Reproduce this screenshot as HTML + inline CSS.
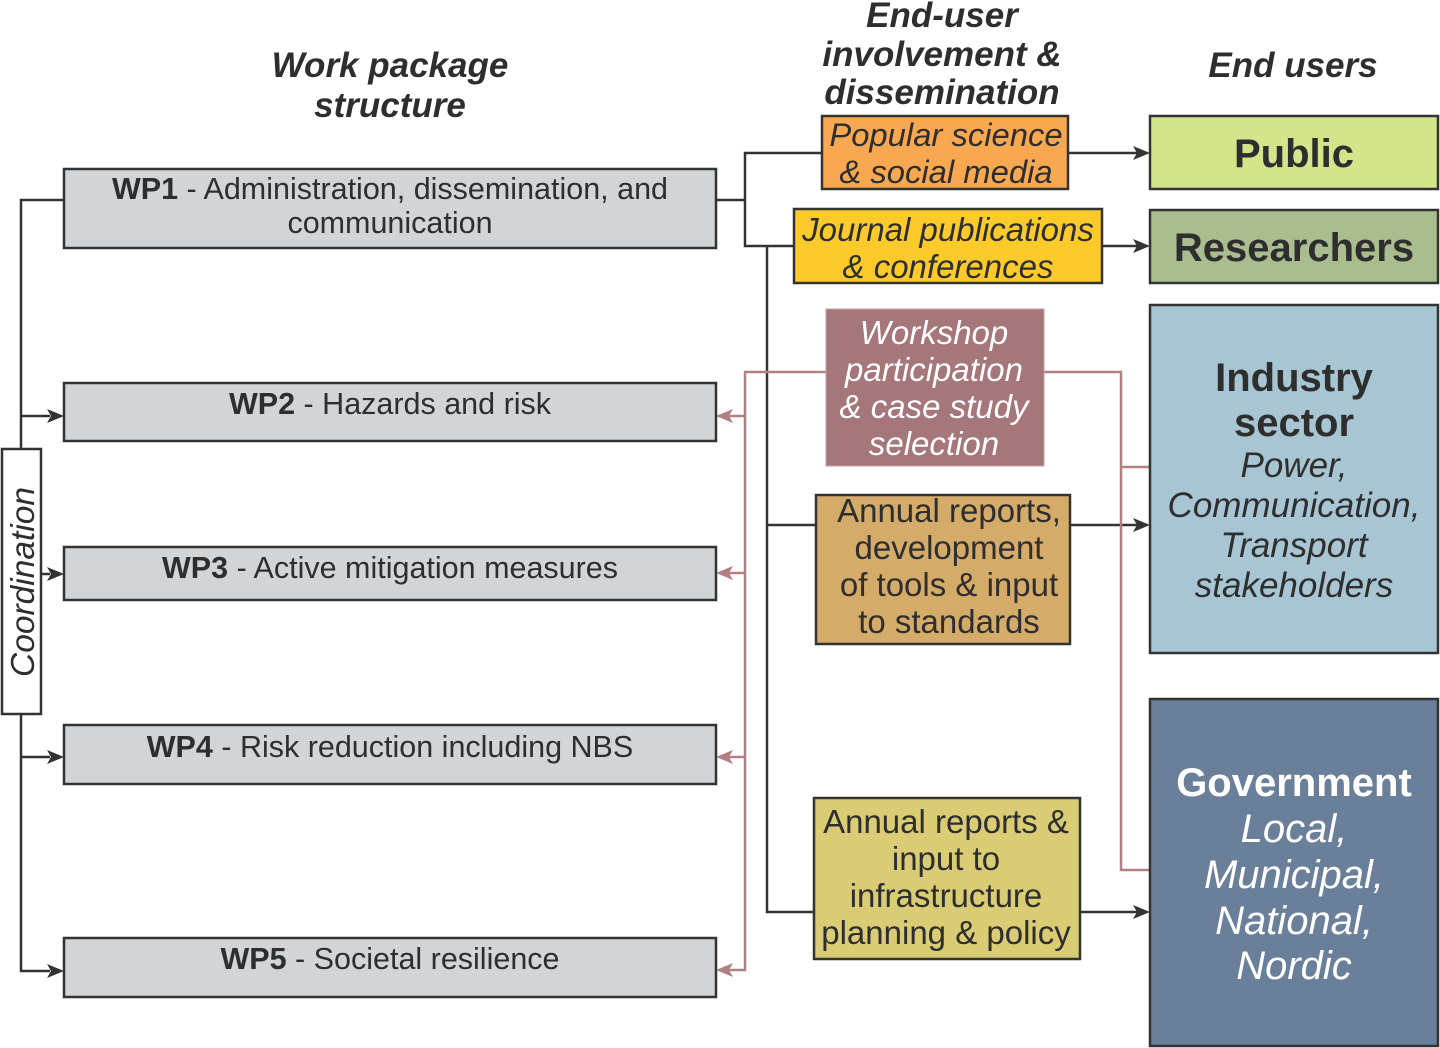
<!DOCTYPE html>
<html>
<head>
<meta charset="utf-8">
<style>
  html,body{margin:0;padding:0;background:#fff;}
  svg{display:block;}
  text{font-family:"Liberation Sans", Arial, sans-serif;fill:#2e2e2e;}
  .hdr{font-size:35px;font-weight:bold;font-style:italic;}
  .wp{font-size:30.5px;}
  .it33{font-size:33px;font-style:italic;}
  .r33{font-size:33px;}
  .b40{font-size:40px;font-weight:bold;}
  .it35{font-size:35px;font-style:italic;}
  .it40{font-size:40px;font-style:italic;}
</style>
</head>
<body>
<svg width="1440" height="1048" viewBox="0 0 1440 1048" xmlns="http://www.w3.org/2000/svg">
  <!-- Headers -->
  <text class="hdr" x="390" y="77" text-anchor="middle">Work package</text>
  <text class="hdr" x="390" y="117" text-anchor="middle">structure</text>
  <text class="hdr" x="942" y="27" text-anchor="middle">End-user</text>
  <text class="hdr" x="942" y="66" text-anchor="middle">involvement &amp;</text>
  <text class="hdr" x="942" y="104" text-anchor="middle">dissemination</text>
  <text class="hdr" x="1293" y="77" text-anchor="middle">End users</text>

  <!-- Black connectors -->
  <g stroke="#333" stroke-width="2.5" fill="none">
    <polyline points="64,200 21,200 21,971 50,971"/>
    <line x1="21" y1="416" x2="50" y2="416"/>
    <line x1="41" y1="574" x2="50" y2="574"/>
    <line x1="21" y1="757" x2="50" y2="757"/>
    <line x1="716" y1="200" x2="745" y2="200"/>
    <polyline points="822,153 745,153 745,246 795,246"/>
    <line x1="1068" y1="153" x2="1137" y2="153"/>
    <line x1="1102" y1="246" x2="1137" y2="246"/>
    <polyline points="816,525 767,525"/>
    <polyline points="767,246 767,912 814,912"/>
    <line x1="1070" y1="525" x2="1137" y2="525"/>
    <line x1="1080" y1="912" x2="1137" y2="912"/>
  </g>
  <g fill="#333">
    <polygon points="64,416 47,409 51,416 47,423"/>
    <polygon points="64,574 47,567 51,574 47,581"/>
    <polygon points="64,757 47,750 51,757 47,764"/>
    <polygon points="64,971 47,964 51,971 47,978"/>
    <polygon points="1150,153 1133,146 1137,153 1133,160"/>
    <polygon points="1150,246 1133,239 1137,246 1133,253"/>
    <polygon points="1150,525 1133,518 1137,525 1133,532"/>
    <polygon points="1150,912 1133,905 1137,912 1133,919"/>
  </g>

  <!-- Pink connectors -->
  <g stroke="#b08083" stroke-width="2.5" fill="none">
    <polyline points="826,372 745,372 745,970 729,970"/>
    <line x1="745" y1="416" x2="729" y2="416"/>
    <line x1="745" y1="573" x2="729" y2="573"/>
    <line x1="745" y1="757" x2="729" y2="757"/>
    <polyline points="1044,372 1121,372 1121,870 1150,870"/>
    <line x1="1121" y1="467" x2="1150" y2="467"/>
  </g>
  <g fill="#b08083">
    <polygon points="716,416 733,409 729,416 733,423"/>
    <polygon points="716,573 733,566 729,573 733,580"/>
    <polygon points="716,757 733,750 729,757 733,764"/>
    <polygon points="716,970 733,963 729,970 733,977"/>
  </g>

  <!-- WP boxes -->
  <g fill="#d3d4d6" stroke="#333" stroke-width="2.5">
    <rect x="64" y="169" width="652" height="79"/>
    <rect x="64" y="383" width="652" height="58"/>
    <rect x="64" y="547" width="652" height="53"/>
    <rect x="64" y="725" width="652" height="59"/>
    <rect x="64" y="938" width="652" height="59"/>
  </g>
  <text class="wp" x="390" y="199" text-anchor="middle"><tspan font-weight="bold">WP1</tspan> -  Administration, dissemination, and</text>
  <text class="wp" x="390" y="233" text-anchor="middle">communication</text>
  <text class="wp" x="390" y="414" text-anchor="middle"><tspan font-weight="bold">WP2</tspan> - Hazards and risk</text>
  <text class="wp" x="390" y="578" text-anchor="middle"><tspan font-weight="bold">WP3</tspan> - Active mitigation measures</text>
  <text class="wp" x="390" y="757" text-anchor="middle"><tspan font-weight="bold">WP4</tspan> - Risk reduction including NBS</text>
  <text class="wp" x="390" y="969" text-anchor="middle"><tspan font-weight="bold">WP5</tspan> - Societal resilience</text>

  <!-- Coordination -->
  <rect x="2" y="449" width="39" height="265" fill="#fff" stroke="#333" stroke-width="2.5"/>
  <text class="it33" transform="translate(34,582) rotate(-90)" x="0" y="0" text-anchor="middle" style="font-size:33.5px">Coordination</text>

  <!-- Middle boxes -->
  <rect x="822" y="116" width="246" height="73" fill="#f9a852" stroke="#333" stroke-width="2.5"/>
  <text class="it33" x="946" y="146" text-anchor="middle" style="font-size:32.8px">Popular science</text>
  <text class="it33" x="946" y="183" text-anchor="middle" style="font-size:32.8px">&amp; social media</text>

  <rect x="794" y="209" width="308" height="74" fill="#fdca2c" stroke="#333" stroke-width="2.5"/>
  <text class="it33" x="948" y="241" text-anchor="middle">Journal publications</text>
  <text class="it33" x="948" y="278" text-anchor="middle">&amp; conferences</text>

  <rect x="826" y="309" width="218" height="157" fill="#a5767a" stroke="#c7a2a4" stroke-width="1"/>
  <text class="it33" x="934" y="344" text-anchor="middle" style="fill:#fff">Workshop</text>
  <text class="it33" x="934" y="381" text-anchor="middle" style="fill:#fff">participation</text>
  <text class="it33" x="934" y="418" text-anchor="middle" style="fill:#fff">&amp; case study</text>
  <text class="it33" x="934" y="455" text-anchor="middle" style="fill:#fff">selection</text>

  <rect x="816" y="495" width="254" height="149" fill="#d4ab69" stroke="#333" stroke-width="2.5"/>
  <text class="r33" x="949" y="522" text-anchor="middle">Annual reports,</text>
  <text class="r33" x="949" y="559" text-anchor="middle">development</text>
  <text class="r33" x="949" y="596" text-anchor="middle">of tools &amp; input</text>
  <text class="r33" x="949" y="633" text-anchor="middle">to standards</text>

  <rect x="814" y="798" width="266" height="161" fill="#d9cc74" stroke="#333" stroke-width="2.5"/>
  <text class="r33" x="946" y="833" text-anchor="middle">Annual reports &amp;</text>
  <text class="r33" x="946" y="870" text-anchor="middle">input to</text>
  <text class="r33" x="946" y="907" text-anchor="middle">infrastructure</text>
  <text class="r33" x="946" y="944" text-anchor="middle">planning &amp; policy</text>

  <!-- End user boxes -->
  <rect x="1150" y="116" width="288" height="73" fill="#d4e48b" stroke="#333" stroke-width="2.5"/>
  <text class="b40" x="1294" y="167" text-anchor="middle">Public</text>

  <rect x="1150" y="210" width="288" height="73" fill="#a9bd8f" stroke="#333" stroke-width="2.5"/>
  <text class="b40" x="1294" y="261" text-anchor="middle">Researchers</text>

  <rect x="1150" y="305" width="288" height="348" fill="#a7c5d3" stroke="#333" stroke-width="2.5"/>
  <text class="b40" x="1294" y="391" text-anchor="middle">Industry</text>
  <text class="b40" x="1294" y="436" text-anchor="middle">sector</text>
  <text class="it35" x="1294" y="477" text-anchor="middle">Power,</text>
  <text class="it35" x="1294" y="517" text-anchor="middle">Communication,</text>
  <text class="it35" x="1294" y="557" text-anchor="middle">Transport</text>
  <text class="it35" x="1294" y="597" text-anchor="middle">stakeholders</text>

  <rect x="1150" y="699" width="288" height="347" fill="#6a7f99" stroke="#333" stroke-width="2.5"/>
  <text class="b40" x="1294" y="796" text-anchor="middle" style="fill:#fff">Government</text>
  <text class="it40" x="1294" y="842" text-anchor="middle" style="fill:#fff">Local,</text>
  <text class="it40" x="1294" y="888" text-anchor="middle" style="fill:#fff">Municipal,</text>
  <text class="it40" x="1294" y="934" text-anchor="middle" style="fill:#fff">National,</text>
  <text class="it40" x="1294" y="979" text-anchor="middle" style="fill:#fff">Nordic</text>
</svg>
</body>
</html>
